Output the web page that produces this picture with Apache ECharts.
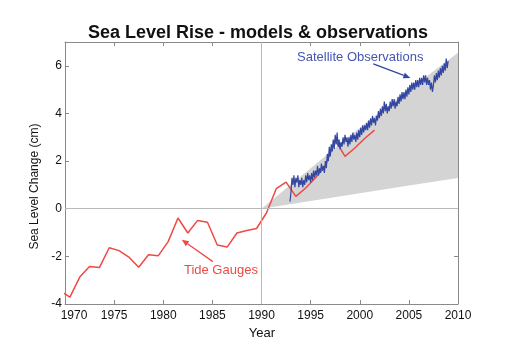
<!DOCTYPE html>
<html><head><meta charset="utf-8">
<script src="https://cdn.jsdelivr.net/npm/echarts@6/dist/echarts.min.js"></script>
<style>html,body{margin:0;padding:0;background:#fff}#c{width:531px;height:359px}</style>
</head><body><div id="c"></div>
<script>
// ---- data ----
const xTicks = [1970, 1975, 1980, 1985, 1990, 1995, 2000, 2005, 2010];
const yTicks = [-4, -2, 0, 2, 4, 6];
const tideYears = [1969.5,1970.5,1971.5,1972.5,1973.5,1974.5,1975.5,1976.5,1977.5,1978.5,1979.5,
  1980.5,1981.5,1982.5,1983.5,1984.5,1985.5,1986.5,1987.5,1988.5,1989.5,
  1990.5,1991.5,1992.5,1993.5,1994.5,1995.5,1996.5,1997.5,1998.5,1999.5,2000.5,2001.5];
const tideValues = [-3.45,-3.71,-2.87,-2.43,-2.47,-1.64,-1.76,-2.03,-2.46,-1.93,-1.97,
  -1.38,-0.39,-1.02,-0.49,-0.57,-1.52,-1.61,-1.02,-0.91,-0.83,
  -0.18,0.84,1.12,0.52,0.87,1.30,1.80,2.89,2.20,2.55,2.95,3.30];
const satStart = 1992.9, satStep = 0.1;
const satValues = [
  0.3,0.7,1.3,1.0,1.4,0.9,1.3,1.1,1.4,0.9,1.2,
  1.0,1.3,0.9,1.2,1.0,1.4,1.1,1.5,1.2,1.4,
  1.1,1.5,1.2,1.6,1.3,1.6,1.4,1.8,1.4,1.7,
  1.5,1.9,1.6,1.8,1.5,2.0,1.7,2.3,2.0,2.6,
  2.2,2.7,2.4,2.9,2.5,3.1,2.7,3.2,2.6,2.9,
  2.5,2.8,2.6,3.0,2.7,3.1,2.8,3.0,2.6,3.0,
  2.7,3.1,2.8,3.2,2.9,3.1,2.8,3.2,2.9,3.3,
  3.0,3.4,3.1,3.5,3.2,3.5,3.3,3.6,3.3,3.7,
  3.4,3.8,3.5,3.9,3.6,3.8,3.5,3.9,3.7,4.1,
  3.8,4.2,3.9,4.3,4.0,4.5,4.1,4.4,4.0,4.3,
  4.1,4.5,4.2,4.6,4.3,4.6,4.2,4.5,4.3,4.7,
  4.4,4.8,4.5,4.9,4.6,4.9,4.6,5.0,4.7,5.1,
  4.8,5.2,4.9,5.3,5.0,5.3,5.0,5.4,5.1,5.4,
  5.1,5.5,5.2,5.5,5.2,5.6,5.3,5.6,5.2,5.5,
  5.2,5.4,5.0,5.3,4.9,5.2,5.6,5.3,5.7,5.4,
  5.8,5.5,5.9,5.6,6.0,5.7,6.1,5.8,6.3,5.9,
  6.2];
const ipccYears = [1990, 1995, 2000, 2005, 2010];
const ipccUpper = [0, 1.7, 3.4, 5.0, 6.55];
const ipccLower = [0, 0.32, 0.65, 0.97, 1.29];

// ---- build ----
const FONT = '"Liberation Sans", Arial, sans-serif';
const RED = '#ee4a44', BLUE = '#3346a2';
const tideData = tideYears.map((y, i) => [y, tideValues[i]]);
const satData = satValues.map((v, i) => [+(satStart + i * satStep).toFixed(2), v]);

const chart = echarts.init(document.getElementById('c'), null, {renderer: 'canvas'});
const axisCommon = {
  axisLine: {show: true, onZero: false, lineStyle: {color: '#8a8a8a', width: 1}},
  axisTick: {show: true, inside: true, length: 4, lineStyle: {color: '#8a8a8a'}},
  splitLine: {show: false}
};
chart.setOption({
  animation: false,
  backgroundColor: '#fff',
  grid: {left: 65, right: 73, top: 42, bottom: 55},
  xAxis: [
    Object.assign({type: 'value', min: xTicks[0], max: xTicks[xTicks.length - 1], interval: 5, position: 'bottom',
      axisLabel: {color: '#111', fontSize: 12, fontFamily: FONT, margin: 6,
        formatter: v => v === xTicks[0] ? '{a|' + v + '}' : '' + v,
        rich: {a: {padding: [0, 0, 0, 18], fontSize: 12, fontFamily: FONT, color: '#111'}}}}, axisCommon),
    Object.assign({type: 'value', min: xTicks[0], max: xTicks[xTicks.length - 1], interval: 5, position: 'top',
      axisLabel: {show: false}}, axisCommon)
  ],
  yAxis: [
    Object.assign({type: 'value', min: yTicks[0], max: 7, interval: 2, position: 'left',
      axisLabel: {color: '#111', fontSize: 12, fontFamily: FONT, margin: 3,
        formatter: v => yTicks.indexOf(v) >= 0 ? '' + v : ''}}, axisCommon),
    Object.assign({type: 'value', min: yTicks[0], max: 7, interval: 2, position: 'right',
      axisLabel: {show: false}}, axisCommon)
  ],
  series: [
    {type: 'custom', silent: true, z: 1, data: [[ipccYears[0], 0]],
      renderItem: function (params, api) {
        const pts = [];
        for (let i = 0; i < ipccYears.length; i++) pts.push(api.coord([ipccYears[i], ipccUpper[i]]));
        for (let i = ipccYears.length - 1; i >= 0; i--) pts.push(api.coord([ipccYears[i], ipccLower[i]]));
        return {type: 'polygon', shape: {points: pts}, style: {fill: '#d4d4d4', stroke: null}};
      },
      markLine: {silent: true, symbol: 'none', label: {show: false},
        lineStyle: {color: '#b8b8b8', width: 1, type: 'solid'},
        data: [{yAxis: 0}, {xAxis: 1990}]}},
    {type: 'line', data: tideData, symbol: 'none', lineStyle: {color: RED, width: 1.5}, z: 3, clip: true},
    {type: 'line', data: satData, symbol: 'none', lineStyle: {color: BLUE, width: 1.2}, z: 4, clip: true}
  ]
});

// ---- annotations (anchored in data coordinates) ----
const P = (x, y) => chart.convertToPixel({gridIndex: 0}, [x, y]);
function arrow(a, b, color, w) {
  const p0 = P(a[0], a[1]), p1 = P(b[0], b[1]);
  const dx = p1[0] - p0[0], dy = p1[1] - p0[1], L = Math.hypot(dx, dy);
  const ux = dx / L, uy = dy / L, hl = 7, hw = 3;
  const base = [p1[0] - ux * hl, p1[1] - uy * hl];
  return [
    {type: 'line', silent: true, shape: {x1: p0[0], y1: p0[1], x2: base[0], y2: base[1]}, style: {stroke: color, lineWidth: w}},
    {type: 'polygon', silent: true, shape: {points: [p1, [base[0] - uy * hw, base[1] + ux * hw], [base[0] + uy * hw, base[1] - ux * hw]]}, style: {fill: color}}
  ];
}
function label(pos, text, color, size, weight) {
  return {type: 'text', silent: true, x: pos[0], y: pos[1],
    style: {text: text, fill: color, font: (weight || 'normal') + ' ' + size + 'px ' + FONT,
      align: 'center', verticalAlign: 'middle', textAlign: 'center', textVerticalAlign: 'middle'}};
}
const g = [];
g.push(label([258, 33], 'Sea Level Rise - models & observations', '#111', 18, 'bold'));
g.push(label(P(2000.05, 6.37), 'Satellite Observations', '#4555b0', 13));
g.push(...arrow([2001.38, 6.08], [2005.15, 5.49], BLUE, 1.3));
g.push(label(P(1985.87, -2.6), 'Tide Gauges', RED, 13));
g.push(...arrow([1985.05, -2.22], [1981.89, -1.3], RED, 1.3));
g.push(label(P(2004.34, 2.26), 'IPCC Projections', '#222', 12));
g.push(label([262, 333], 'Year', '#111', 13));
const yl = P(1970, 0.93);
const ylab = label([35, yl[1]], 'Sea Level Change (cm)', '#111', 12);
ylab.rotation = Math.PI / 2;
g.push(ylab);
chart.setOption({graphic: g});
</script></body></html>
